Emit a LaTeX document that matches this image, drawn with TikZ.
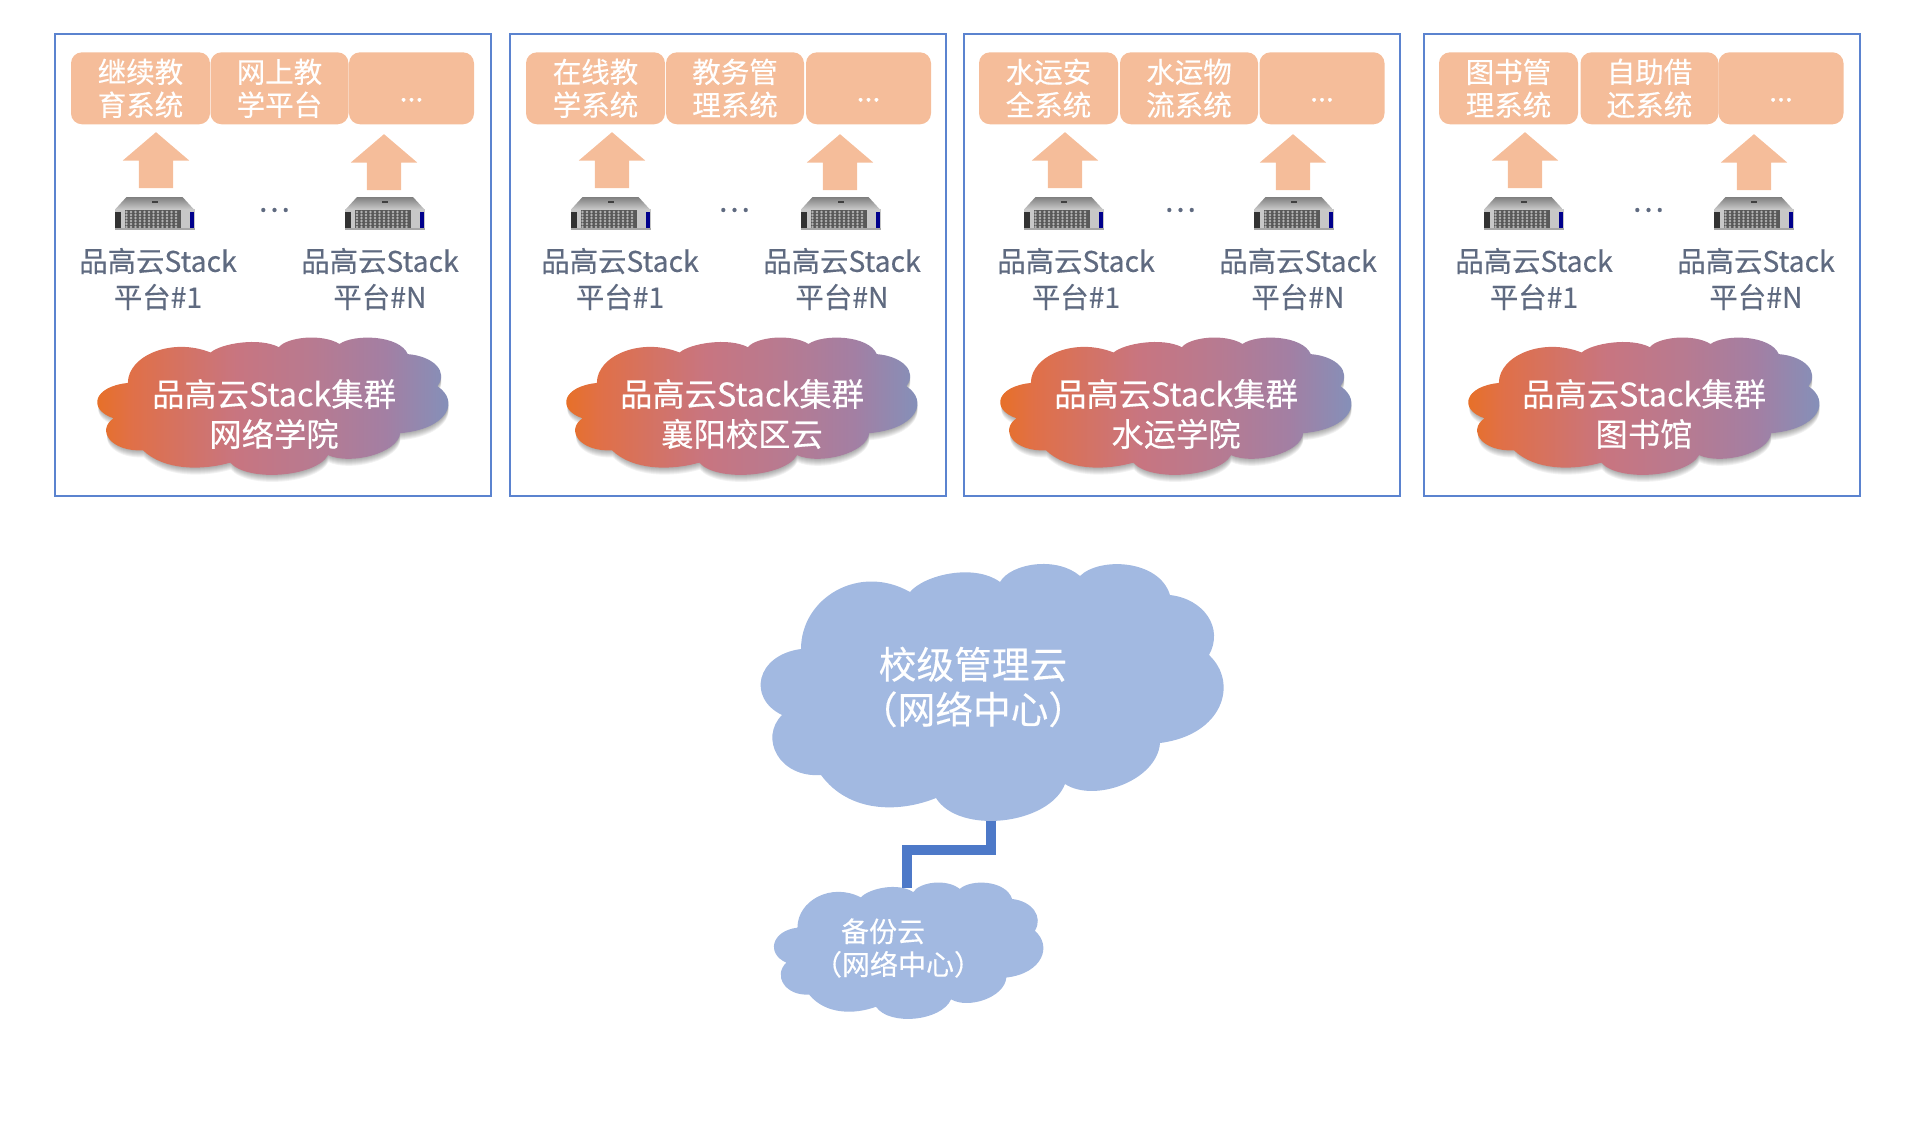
\documentclass[tikz,border=0pt]{standalone}
\usepackage{fontspec}
\setmainfont{Noto Sans CJK SC}[FakeBold=0.3]
\usetikzlibrary{shapes.arrows}
\definecolor{framecol}{HTML}{5B83CF}
\definecolor{appcol}{HTML}{F5BD9A}
\definecolor{textcol}{HTML}{5F6A80}
\definecolor{skycol}{HTML}{A2B9E1}
\definecolor{linkcol}{HTML}{4D79C8}
\definecolor{gradA}{HTML}{E9701F}
\definecolor{gradB}{HTML}{E07048}
\definecolor{gradC}{HTML}{C87580}
\definecolor{gradD}{HTML}{B87A90}
\definecolor{gradE}{HTML}{A37FA3}
\definecolor{gradF}{HTML}{7F93BD}
\pgfdeclarehorizontalshading{cloudgrad}{100bp}{
  color(0bp)=(gradA); color(25bp)=(gradA); color(31bp)=(gradB); color(45bp)=(gradC);
  color(55bp)=(gradD); color(65bp)=(gradE); color(75bp)=(gradF); color(100bp)=(gradF)}
\tikzset{
  panelframe/.style={draw=framecol, line width=2.4pt},
  appbox/.style={fill=appcol, rounded corners=11pt, minimum height=72pt, inner sep=0pt,
    text=white, align=center, font=\fontsize{28.5}{33}\selectfont},
  uparrow/.style={single arrow, fill=appcol, rotate=90, inner xsep=0pt, inner ysep=17pt, minimum height=56pt,
    minimum width=66pt, single arrow head extend=16pt, single arrow tip angle=99},
  platlabel/.style={text=textcol, align=center, inner sep=0pt, font=\fontsize{28.4}{36}\selectfont},
  clusterlabel/.style={text=white, align=center, inner sep=0pt, font=\fontsize{32.3}{40}\selectfont},
  netlink/.style={draw=linkcol, line width=9.5pt},
  cloudat/.style n args={4}{shift={(#1,#2)}, xscale=#3/464, yscale=#4/260, insert path={
    (42,86) .. controls (42,35) and (100,0) .. (151,29)
    .. controls (165,12) and (215,0) .. (241,19)
    .. controls (252,0) and (298,-7) .. (321,13)
    .. controls (340,-6) and (400,-4) .. (411,32)
    .. controls (445,36) and (465,65) .. (450,92)
    .. controls (480,120) and (464,172) .. (401,180)
    .. controls (398,218) and (335,240) .. (306,221)
    .. controls (290,262) and (200,272) .. (177,235)
    .. controls (140,250) and (90,250) .. (62,212)
    .. controls (20,215) and (0,175) .. (23,152)
    .. controls (-12,135) and (-3,92) .. (42,86) -- cycle}},
  server/.pic={
    \shade[top color=black!50, bottom color=black!22] (-28,0) -- (28,0) -- (39,12) -- (-39,12) -- cycle;
    \fill[black!75] (-3,4) rectangle (3,5.5);
    \fill[black!22] (-40,12) rectangle (40,33);
    \fill[black!80] (-40,15) rectangle (-34,31);
    \fill[blue!55!black] (35,15) rectangle (39,31);
    \fill[black!65] (-30,13) rectangle (26,31);
    \foreach \cx in {-28,-23.5,...,25} \foreach \cy in {15,18,...,30}
      \fill[black!30] (\cx,\cy) circle (1.3pt);
    \fill[black!35] (-40,31) rectangle (40,33);
  },
}
\begin{document}
\begin{tikzpicture}[x=1pt, y=-1pt]
\useasboundingbox (0,0) rectangle (1918,1140); % keep the margins
\foreach \n/\fx/\ba/\bb/\bc/\aa/\ab/\sa/\sb/\dx/\la/\lb/\cx/\tx/\ta/\tb/\cname in {
  a/55/140.5/279.5/411.5/156/384/154.5/385/274/158/380/96/274/{继续教\\育系统}/{网上教\\学平台}/网络学院,
  b/510/595.5/735/868.5/612/840/610.5/840.5/734/620/842/565/742/{在线教\\学系统}/{教务管\\理系统}/襄阳校区云,
  c/964/1048.5/1189/1322/1065/1293/1063.5/1293.5/1180/1076/1298/999/1176/{水运安\\全系统}/{水运物\\流系统}/水运学院,
  d/1424/1508.5/1649.5/1781/1525/1754/1523.5/1753.5/1648/1534/1756/1467/1644/{图书管\\理系统}/{自助借\\还系统}/图书馆}
{
  \draw[panelframe] (\fx,34) rectangle ++(436,462);
  \node[appbox, minimum width=139pt] (app1\n) at (\ba,88.3) {\ta};
  \node[appbox, minimum width=138pt] (app2\n) at (\bb,88.3) {\tb};
  \node[appbox, minimum width=125pt] (app3\n) at (\bc,88.3) {\raisebox{-27pt}{...}};
  \node[uparrow] (arrow1\n) at (\aa,167.5) {};
  \node[uparrow] (arrow2\n) at (\ab,169.5) {};
  \pic at (\sa,197) {server};
  \pic at (\sb,197) {server};
  \node[text=textcol, inner sep=0pt, font=\fontsize{30}{30}\selectfont] (more\n) at (\dx,210) {…};
  \node[platlabel] (plat1\n) at (\la,279) {品高云Stack\\平台\#1};
  \node[platlabel] (plat2\n) at (\lb,279) {品高云Stack\\平台\#N};
  \foreach \s in {1,...,7}
    \fill[black, fill opacity=.05, cloudat={\cx+1}{337+\s}{351}{139}];
  \shade[shading=cloudgrad, cloudat={\cx}{337}{352}{139}];
  \node[clusterlabel] (cluster\n) at (\tx,414) {品高云Stack集群\\\cname};
}
\fill[skycol, cloudat={759}{563}{464}{260}];
\fill[skycol, cloudat={773}{882}{270}{138}];
\node[text=white, align=center, inner sep=0pt, font=\fontsize{37.7}{45}\selectfont] (mgmt) at (973,687) {校级管理云\\（网络中心）};
\node[text=white, align=center, inner sep=0pt, font=\fontsize{28}{33}\selectfont] (backup) at (898,948) {备份云\rule{30pt}{0pt}\\（网络中心）};
\coordinate (mgmtport) at (991,821);
\coordinate (backupport) at (907,888);
\draw[netlink] (mgmtport) -- ++(0,29) -| (backupport);
\end{tikzpicture}
\end{document}
